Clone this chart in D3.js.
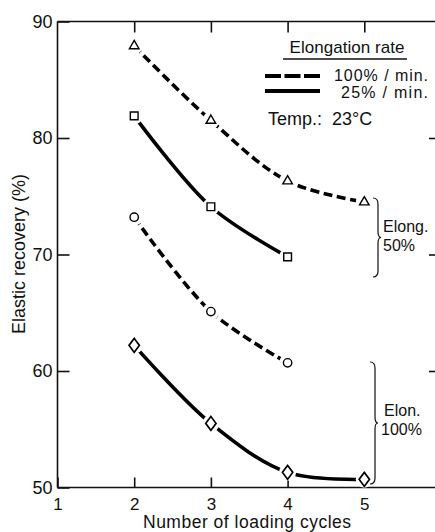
<!DOCTYPE html>
<html>
<head>
<meta charset="utf-8">
<script src="https://cdn.jsdelivr.net/npm/d3@7"></script>
<style>
  body { margin: 0; background: #fff; }
  svg { display: block; font-family: "Liberation Sans", Arial, sans-serif; }
</style>
</head>
<body>
<div id="chart"></div>
<script>
const cycles = [2, 3, 4, 5];
const xTicks = [1, 2, 3, 4, 5, 6];
const yTicks = [50, 60, 70, 80, 90];

// elongation 50 %
const tri50Fast = [87.9, 81.5, 76.3, 74.5];  // 100%/min, dashed
const sq50Slow = [81.9, 74.1, 69.8];         // 25%/min, solid
// elongation 100 %
const circ100Fast = [73.2, 65.1, 60.7];      // 100%/min, dashed
const dia100Slow = [62.2, 55.5, 51.3, 50.7]; // 25%/min, solid

const series = [
  { values: tri50Fast, dashed: true, marker: "triangle" },
  { values: sq50Slow, dashed: false, marker: "square" },
  { values: circ100Fast, dashed: true, marker: "circle" },
  { values: dia100Slow, dashed: false, marker: "diamond" },
];

const width = 435;
const height = 532;

const svg = d3
  .select("#chart")
  .append("svg")
  .attr("width", width)
  .attr("height", height);

const x = d3.scaleLinear().domain([1, 6]).range([57.5, 441]);
const y = d3.scaleLinear().domain([50, 90]).range([487.5, 21.5]);

const frame = svg.append("g").attr("stroke", "#111").attr("stroke-width", 1.6).attr("fill", "none");
frame.append("line").attr("x1", x(1)).attr("x2", x(1)).attr("y1", y(90)).attr("y2", y(50));
frame.append("line").attr("x1", x(1)).attr("x2", x(6)).attr("y1", y(90)).attr("y2", y(90));
frame.append("line").attr("x1", x(1)).attr("x2", x(6)).attr("y1", y(50)).attr("y2", y(50));
frame.append("line").attr("x1", x(6)).attr("x2", x(6)).attr("y1", y(90)).attr("y2", y(50));

// axes (inward ticks)
const styleAxis = (g) => {
  g.select(".domain").remove();
  g.selectAll(".tick line").attr("stroke", "#111").attr("stroke-width", 1.6);
  g.selectAll(".tick text").attr("fill", "#111");
};

svg
  .append("g")
  .attr("transform", `translate(${x(1)},0)`)
  .call(d3.axisLeft(y).tickValues(yTicks).tickSize(-12).tickPadding(5))
  .call(styleAxis)
  .attr("font-size", 18)
  .attr("font-family", null);

svg
  .append("g")
  .attr("transform", `translate(${x(6)},0)`)
  .call(d3.axisRight(y).tickValues([60, 70, 80]).tickSize(-12).tickFormat(""))
  .call(styleAxis);

svg
  .append("g")
  .attr("transform", `translate(0,${y(50)})`)
  .call(d3.axisBottom(x).tickValues(xTicks.slice(0, 5)).tickSize(-10).tickPadding(10).tickFormat(d3.format("d")))
  .call(styleAxis)
  .attr("font-size", 17)
  .attr("font-family", null);

svg
  .append("g")
  .attr("transform", `translate(0,${y(90)})`)
  .call(d3.axisTop(x).tickValues(cycles).tickSize(-11).tickFormat(""))
  .call(styleAxis);

// axis titles
svg
  .append("text")
  .text("Number of loading cycles")
  .attr("x", 247)
  .attr("y", 528)
  .attr("text-anchor", "middle")
  .attr("font-size", 17.5)
  .attr("textLength", 208)
  .attr("fill", "#111");

svg
  .append("text")
  .text("Elastic recovery (%)")
  .attr("transform", "translate(25,254) rotate(-90)")
  .attr("text-anchor", "middle")
  .attr("font-size", 18)
  .attr("fill", "#111");

// curves
const line = d3
  .line()
  .x((d, i) => x(cycles[i]))
  .y((d) => y(d))
  .curve(d3.curveCatmullRom.alpha(0.5));

svg
  .append("g")
  .selectAll("path")
  .data(series)
  .join("path")
  .attr("d", (d) => line(d.values))
  .attr("fill", "none")
  .attr("stroke", "#000")
  .attr("stroke-width", 3.6)
  .attr("stroke-dasharray", (d) => (d.dashed ? "9 4.5" : null));

// markers with white halo to leave a gap around them
const symbolType = {
  triangle: d3.symbolTriangle,
  square: d3.symbolSquare,
  circle: d3.symbolCircle,
  diamond: d3.symbolDiamond,
};
const symbolSize = { triangle: 40, square: 60, circle: 55, diamond: 55 };

const points = series.flatMap((s) => s.values.map((v, i) => ({ x: cycles[i], y: v, marker: s.marker })));

const markers = svg
  .append("g")
  .selectAll("g")
  .data(points)
  .join("g")
  .attr("transform", (d) => `translate(${x(d.x)},${y(d.y)})`);

markers.append("circle").attr("r", 8.5).attr("fill", "#fff");
markers
  .append("path")
  .attr("d", (d) => d3.symbol(symbolType[d.marker], symbolSize[d.marker])())
  .attr("transform", (d) => (d.marker === "diamond" ? "scale(1.3,1)" : null))
  .attr("fill", "#fff")
  .attr("stroke", "#000")
  .attr("stroke-width", 1.4);

// legend
const legend = svg.append("g").attr("fill", "#111");
legend
  .append("text")
  .text("Elongation rate")
  .attr("x", 347)
  .attr("y", 53)
  .attr("text-anchor", "middle")
  .attr("font-size", 17)
  .attr("textLength", 115);
legend
  .append("line")
  .attr("x1", 283)
  .attr("x2", 407)
  .attr("y1", 59)
  .attr("y2", 59)
  .attr("stroke", "#111")
  .attr("stroke-width", 1.4);
legend
  .append("line")
  .attr("x1", 265)
  .attr("x2", 320)
  .attr("y1", 76)
  .attr("y2", 76)
  .attr("stroke", "#000")
  .attr("stroke-width", 3.8)
  .attr("stroke-dasharray", "16 3.5");
legend
  .append("line")
  .attr("x1", 265)
  .attr("x2", 320)
  .attr("y1", 91)
  .attr("y2", 91)
  .attr("stroke", "#000")
  .attr("stroke-width", 3.8);
legend
  .append("text")
  .text("100% / min.")
  .attr("x", 428)
  .attr("y", 81)
  .attr("text-anchor", "end")
  .attr("font-size", 16)
  .attr("textLength", 94);
legend
  .append("text")
  .text("25% / min.")
  .attr("x", 428)
  .attr("y", 98)
  .attr("text-anchor", "end")
  .attr("font-size", 16)
  .attr("textLength", 87);
legend
  .append("text")
  .text("Temp.:  23°C")
  .attr("x", 268)
  .attr("y", 125)
  .attr("font-size", 18)
  .attr("xml:space", "preserve");

// braces
const brace = (x0, y0, y1, w) => {
  const m = (y0 + y1) / 2;
  return `M${x0},${y0} Q${x0 + w},${y0} ${x0 + w},${y0 + 6} L${x0 + w},${m - 6} Q${x0 + w},${m} ${x0 + w + 3},${m}` +
    ` Q${x0 + w},${m} ${x0 + w},${m + 6} L${x0 + w},${y1 - 6} Q${x0 + w},${y1} ${x0},${y1}`;
};
svg
  .append("g")
  .selectAll("path")
  .data([
    [373, 198, 277],
    [370, 362, 484],
  ])
  .join("path")
  .attr("d", (d) => brace(d[0], d[1], d[2], 5))
  .attr("fill", "none")
  .attr("stroke", "#111")
  .attr("stroke-width", 1.2);

const braceLabels = [
  ["Elong.", 383, 232],
  ["50%", 383, 251],
  ["Elon.", 384, 416],
  ["100%", 381, 435],
];
svg
  .append("g")
  .selectAll("text")
  .data(braceLabels)
  .join("text")
  .text((d) => d[0])
  .attr("x", (d) => d[1])
  .attr("y", (d) => d[2])
  .attr("font-size", 16)
  .attr("fill", "#111");
</script>
</body>
</html>
